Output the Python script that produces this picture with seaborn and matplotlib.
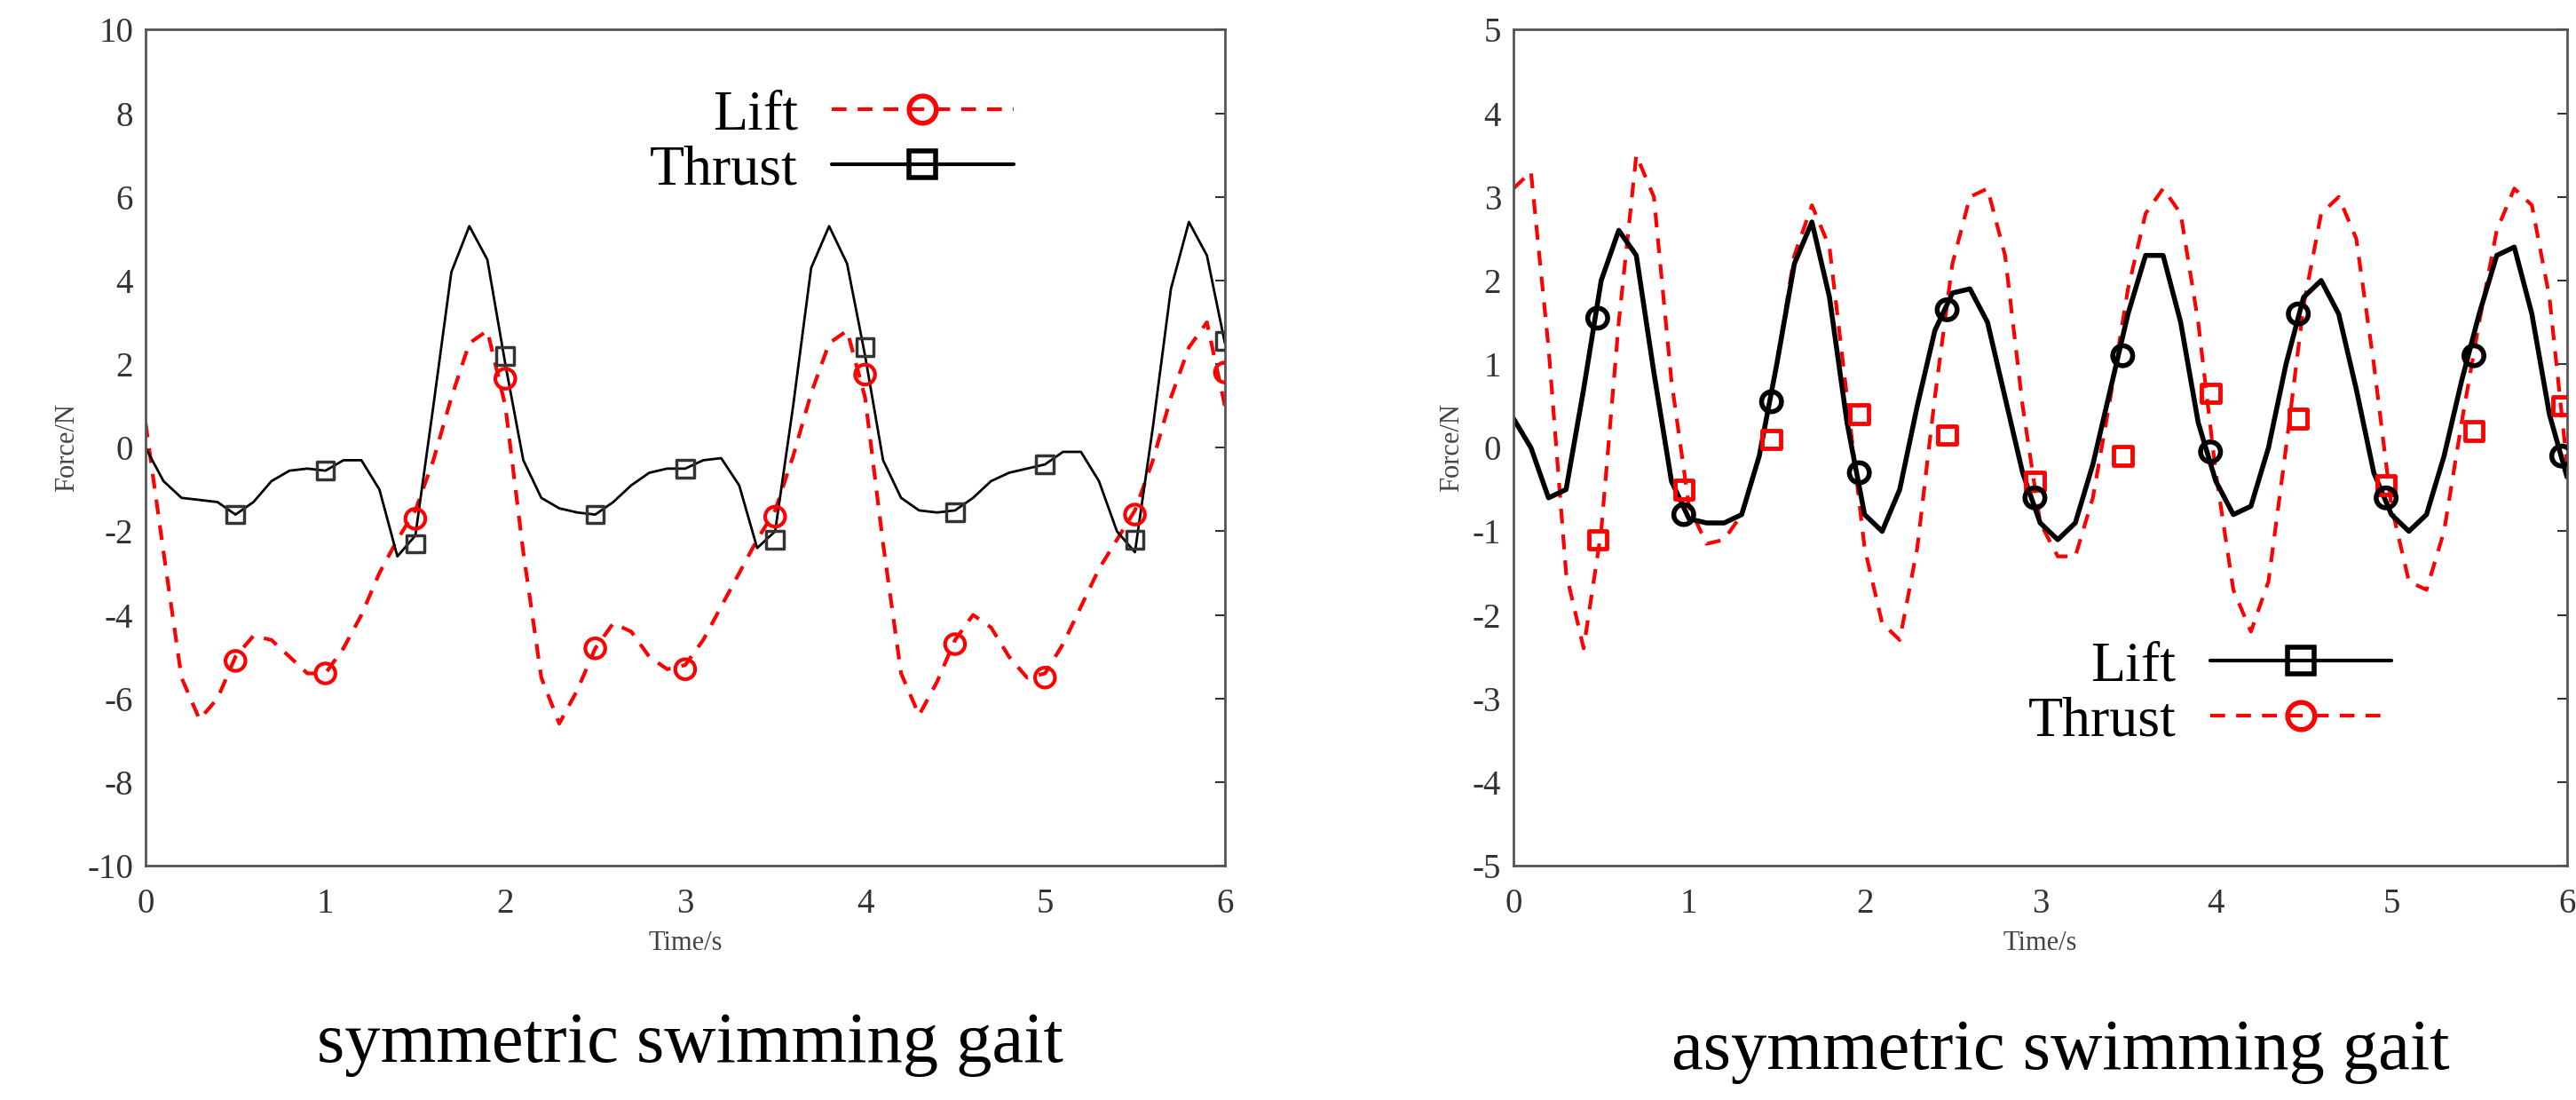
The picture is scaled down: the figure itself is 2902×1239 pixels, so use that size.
import numpy as np
import pandas as pd
import matplotlib
matplotlib.use("Agg")
import matplotlib.pyplot as plt
import seaborn as sns
from matplotlib.lines import Line2D

sns.set_theme(style="white")
plt.rcParams['font.family'] = ['Liberation Serif', 'DejaVu Serif']
plt.rcParams['axes.unicode_minus'] = False

t = np.round(np.arange(0, 6.01, 0.1), 2)

sym_thrust = [0, -0.8, -1.2, -1.25, -1.3, -1.6, -1.3, -0.8, -0.55, -0.5,
              -0.55, -0.3, -0.3, -1.0, -2.6, -2.1, 1.0, 4.2, 5.3, 4.5,
              2.0, -0.3, -1.2, -1.45, -1.55, -1.6, -1.3, -0.9, -0.6, -0.5,
              -0.5, -0.3, -0.25, -0.9, -2.4, -2.0, 1.0, 4.3, 5.3, 4.4,
              2.2, -0.3, -1.2, -1.5, -1.55, -1.5, -1.2, -0.8, -0.6, -0.5,
              -0.4, -0.1, -0.1, -0.8, -2.0, -2.5, 0.5, 3.8, 5.4, 4.6, 2.5]
sym_lift = [0.6, -2.5, -5.5, -6.5, -6.0, -5.0, -4.5, -4.6, -5.0, -5.4,
            -5.4, -4.8, -4.0, -3.0, -2.2, -1.5, -0.3, 1.2, 2.5, 2.8,
            1.0, -2.5, -5.5, -6.6, -5.8, -4.8, -4.2, -4.4, -5.0, -5.3,
            -5.2, -4.6, -3.8, -3.0, -2.2, -1.5, -0.2, 1.3, 2.5, 2.8,
            1.2, -2.3, -5.4, -6.4, -5.6, -4.6, -4.0, -4.3, -5.0, -5.5,
            -5.4, -4.7, -3.8, -2.9, -2.2, -1.5, -0.3, 1.2, 2.4, 3.0, 1.0]
sym_mt = [0.5, 1.0, 1.5, 2.0, 2.5, 3.0, 3.5, 4.0, 4.5, 5.0, 5.5, 6.0]
sym_thrust_m = [-1.6, -0.55, -2.3, 2.2, -1.6, -0.5, -2.2, 2.4, -1.55, -0.4, -2.2, 2.55]
sym_lift_m = [-5.1, -5.4, -1.7, 1.65, -4.8, -5.3, -1.65, 1.75, -4.7, -5.5, -1.6, 1.8]

asym_lift = [0.35, 0.0, -0.6, -0.5, 0.7, 2.0, 2.6, 2.3, 0.9, -0.4,
             -0.85, -0.9, -0.9, -0.8, -0.1, 1.0, 2.2, 2.7, 1.8, 0.3,
             -0.8, -1.0, -0.5, 0.5, 1.4, 1.85, 1.9, 1.5, 0.6, -0.3,
             -0.9, -1.1, -0.9, -0.2, 0.7, 1.6, 2.3, 2.3, 1.5, 0.3,
             -0.4, -0.8, -0.7, 0.0, 1.0, 1.8, 2.0, 1.6, 0.7, -0.3,
             -0.8, -1.0, -0.8, -0.1, 0.8, 1.6, 2.3, 2.4, 1.6, 0.4, -0.35]
asym_thrust = [3.1, 3.3, 1.2, -1.5, -2.4, -1.0, 1.5, 3.5, 3.0, 0.8,
               -0.7, -1.15, -1.1, -0.8, -0.1, 1.0, 2.3, 2.9, 2.4, 0.6,
               -1.2, -2.1, -2.3, -1.2, 0.6, 2.2, 3.0, 3.1, 2.3, 0.5,
               -0.9, -1.3, -1.3, -0.6, 0.6, 1.9, 2.8, 3.1, 2.8, 1.5,
               -0.3, -1.7, -2.2, -1.6, 0.0, 1.7, 2.8, 3.0, 2.5, 1.0,
               -0.7, -1.6, -1.7, -1.0, 0.3, 1.5, 2.6, 3.1, 2.9, 1.8, -0.2]
asym_mt = [0.48, 0.97, 1.47, 1.97, 2.47, 2.97, 3.47, 3.97, 4.47, 4.97, 5.47, 5.97]
asym_lift_m = [1.55, -0.8, 0.55, -0.3, 1.65, -0.6, 1.1, -0.05, 1.6, -0.6, 1.1, -0.1]
asym_thrust_m = [-1.1, -0.5, 0.1, 0.4, 0.15, -0.4, -0.1, 0.65, 0.35, -0.45, 0.2, 0.5]

fig = plt.figure(figsize=(29.02, 12.39), dpi=100)
ax1 = fig.add_axes([0.0565, 0.213, 0.419, 0.760])
ax2 = fig.add_axes([0.5875, 0.213, 0.409, 0.760])

RED = '#ff0000'

# left
sns.lineplot(x=t, y=sym_lift, ax=ax1, color=RED, lw=3, linestyle=(0, (4, 3)))
sns.lineplot(x=t, y=sym_thrust, ax=ax1, color='black', lw=2)
ax1.scatter(sym_mt, sym_lift_m, s=260, facecolors='none', edgecolors=RED, linewidths=3, zorder=5)
ax1.scatter(sym_mt, sym_thrust_m, s=200, marker='s', facecolors='none', edgecolors='#333333', linewidths=2.5, zorder=5)
ax1.set_ylim(-10, 10)
ax1.set_yticks(np.arange(-10, 11, 2))

# right
sns.lineplot(x=t, y=asym_thrust, ax=ax2, color=RED, lw=3, linestyle=(0, (4, 3)))
sns.lineplot(x=t, y=asym_lift, ax=ax2, color='black', lw=4)
ax2.scatter(asym_mt, asym_thrust_m, s=220, marker='s', facecolors='none', edgecolors=RED, linewidths=3.5, zorder=5)
ax2.scatter(asym_mt, asym_lift_m, s=260, facecolors='none', edgecolors='black', linewidths=4, zorder=5)
ax2.set_ylim(-5, 5)
ax2.set_yticks(np.arange(-5, 6, 1))

for ax in (ax1, ax2):
    ax.set_xlim(0, 6)
    ax.set_xticks(range(7))
    ax.tick_params(direction='in', length=8, width=1.5, labelsize=28, colors='#333333',
                   top=False, right=True, pad=10)
    ax.tick_params(axis='x', pad=18)
    for s in ax.spines.values():
        s.set_color('#555555'); s.set_linewidth(2)
    ax.set_xlabel('Time/s', fontsize=22, color='#444444', labelpad=8)
    ax.set_ylabel('Force/N', fontsize=22, color='#444444', labelpad=6)

h_lift_l = Line2D([], [], color=RED, lw=3, linestyle=(0, (4, 3)), marker='o', ms=22,
                  mfc='none', mec=RED, mew=4)
h_thr_l = Line2D([], [], color='black', lw=3, marker='s', ms=22, mfc='none', mec='black', mew=4)
ax1.legend([h_lift_l, h_thr_l], ['Lift', 'Thrust'], loc='upper left', bbox_to_anchor=(0.42, 0.99),
           frameon=False, markerfirst=False, fontsize=46, handlelength=3.2, labelspacing=0.05,
           handletextpad=0.6, labelcolor='black')
h_lift_r = Line2D([], [], color='black', lw=3, marker='s', ms=22, mfc='none', mec='black', mew=4)
h_thr_r = Line2D([], [], color=RED, lw=3, linestyle=(0, (4, 3)), marker='o', ms=22,
                 mfc='none', mec=RED, mew=4)
ax2.legend([h_lift_r, h_thr_r], ['Lift', 'Thrust'], loc='upper left', bbox_to_anchor=(0.44, 0.33),
           frameon=False, markerfirst=False, fontsize=46, handlelength=3.2, labelspacing=0.05,
           handletextpad=0.6, labelcolor='black')

fig.text(0.268, 0.035, 'symmetric swimming gait', ha='center', fontsize=58, color='black')
fig.text(0.80, 0.028, 'asymmetric swimming gait', ha='center', fontsize=58, color='black')

fig.savefig('out.png', dpi=100)
